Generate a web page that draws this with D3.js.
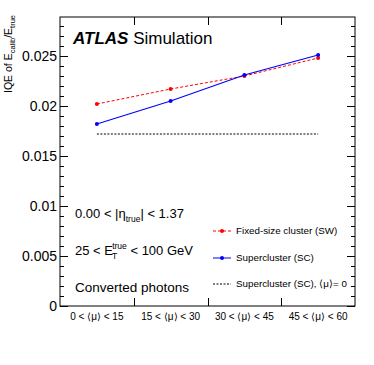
<!DOCTYPE html>
<html><head><meta charset="utf-8">
<script src="https://cdn.jsdelivr.net/npm/d3@7"></script>
<style>body{margin:0;background:#fff}svg{display:block;font-family:"Liberation Sans",Arial,sans-serif}</style>
</head><body>
<svg id="c" width="374" height="365"></svg>
<script>
const categories = ["0 < \u27E8\u03BC\u27E9 < 15","15 < \u27E8\u03BC\u27E9 < 30","30 < \u27E8\u03BC\u27E9 < 45","45 < \u27E8\u03BC\u27E9 < 60"];
const swValues = [0.0202, 0.0217, 0.0230, 0.0248];
const scValues = [0.0182, 0.0205, 0.0231, 0.0251];
const sc0Value = [0.0172, 0.0172, 0.0172, 0.0172];
const yTicks = [0, 0.005, 0.01, 0.015, 0.02, 0.025];
const yTickLabels = ["0","0.005","0.01","0.015","0.02","0.025"];

const svg = d3.select("#c");
const L=60,R=355,T=17,B=306;
const x = d3.scaleBand().domain(categories).range([L,R]);
const y = d3.scaleLinear().domain([0,0.0289]).range([B,T]);
const cx = d => x(d)+x.bandwidth()/2;

// frame
svg.append("rect").attr("x",L).attr("y",T).attr("width",R-L).attr("height",B-T)
  .attr("fill","none").attr("stroke","#000").attr("stroke-width",1);

// y ticks (left and right, inward)
const minor = d3.range(0,0.0289,0.001);
const g = svg.append("g").attr("stroke","#000").attr("stroke-width",1);
minor.forEach((v,i)=>{
  const major = i%5===0;
  const len = major?8:4;
  const yy = Math.round(y(v))+0.5;
  g.append("line").attr("x1",L).attr("x2",L+len).attr("y1",yy).attr("y2",yy);
  g.append("line").attr("x1",R).attr("x2",R-len).attr("y1",yy).attr("y2",yy);
});
// x boundary ticks
categories.slice(1).forEach(c=>{
  const xx = Math.round(x(c))+0.5;
  g.append("line").attr("x1",xx).attr("x2",xx).attr("y1",B).attr("y2",B-8);
  g.append("line").attr("x1",xx).attr("x2",xx).attr("y1",T).attr("y2",T+8);
});

// y tick labels
yTicks.forEach((v,i)=>{
  svg.append("text").attr("x",L-3).attr("y",y(v)+5).attr("text-anchor","end")
    .attr("font-size",14).text(yTickLabels[i]);
});
// x labels
categories.forEach(c=>{
  svg.append("text").attr("x",cx(c)).attr("y",320).attr("text-anchor","middle")
    .attr("font-size",10).text(c);
});

// y axis title
const yt = svg.append("text").attr("transform","translate(12,15) rotate(-90)")
  .attr("text-anchor","end").attr("font-size",10.5);
yt.append("tspan").text("IQE of E");
yt.append("tspan").attr("font-size",7.5).attr("dy",3).text("calib");
yt.append("tspan").attr("dy",-3).text("/E");
yt.append("tspan").attr("font-size",7.5).attr("dy",3).text("true");

// lines
const line = d3.line().x(d=>d[0]).y(d=>d[1]);
svg.append("path").attr("d",line(categories.map((c,i)=>[cx(c),y(sc0Value[i])])))
  .attr("fill","none").attr("stroke","#000").attr("stroke-width",1).attr("stroke-dasharray","2,1.5");
svg.append("path").attr("d",line(categories.map((c,i)=>[cx(c),y(swValues[i])])))
  .attr("fill","none").attr("stroke","#ff0000").attr("stroke-width",1).attr("stroke-dasharray","3,2");
svg.append("path").attr("d",line(categories.map((c,i)=>[cx(c),y(scValues[i])])))
  .attr("fill","none").attr("stroke","#0000ff").attr("stroke-width",1.2);
categories.forEach((c,i)=>{
  svg.append("circle").attr("cx",cx(c)).attr("cy",y(swValues[i])).attr("r",2).attr("fill","#ff0000");
  svg.append("circle").attr("cx",cx(c)).attr("cy",y(scValues[i])).attr("r",2).attr("fill","#0000ff");
});

// ATLAS label
const at = svg.append("text").attr("x",73).attr("y",44).attr("font-size",17);
at.append("tspan").attr("font-weight","bold").attr("font-style","italic").text("ATLAS");
at.append("tspan").text(" Simulation");

// annotations
const a1 = svg.append("text").attr("x",75).attr("y",218).attr("font-size",13);
a1.append("tspan").text("0.00 < |\u03B7");
a1.append("tspan").attr("font-size",8.5).attr("dy",4).text("true");
a1.append("tspan").attr("dy",-4).text("| < 1.37");

const a2 = svg.append("text").attr("x",75).attr("y",255).attr("font-size",13);
a2.append("tspan").text("25 < E");
a2.append("tspan").attr("font-size",8.5).attr("dy",4).attr("dx",-1).text("T");
a2.append("tspan").attr("font-size",8.5).attr("dy",-10).attr("dx",-5).text("true");
a2.append("tspan").attr("dy",6).text(" < 100 GeV");

svg.append("text").attr("x",75).attr("y",292).attr("font-size",13.5).text("Converted photons");

// legend
const lg = [
  {label:"Fixed-size cluster (SW)", color:"#ff0000", dash:"3,2", marker:true, y:234},
  {label:"Supercluster (SC)", color:"#0000ff", dash:null, marker:true, y:261},
  {label:"Supercluster (SC), \u27E8\u03BC\u27E9= 0", color:"#000", dash:"2,1.5", marker:false, y:287}
];
lg.forEach(e=>{
  svg.append("line").attr("x1",213).attr("x2",231).attr("y1",e.y-3).attr("y2",e.y-3)
    .attr("stroke",e.color).attr("stroke-width",1).attr("stroke-dasharray",e.dash);
  if(e.marker) svg.append("circle").attr("cx",222).attr("cy",e.y-3).attr("r",2).attr("fill",e.color);
  svg.append("text").attr("x",236).attr("y",e.y).attr("font-size",9.8).text(e.label);
});
</script>
</body></html>
